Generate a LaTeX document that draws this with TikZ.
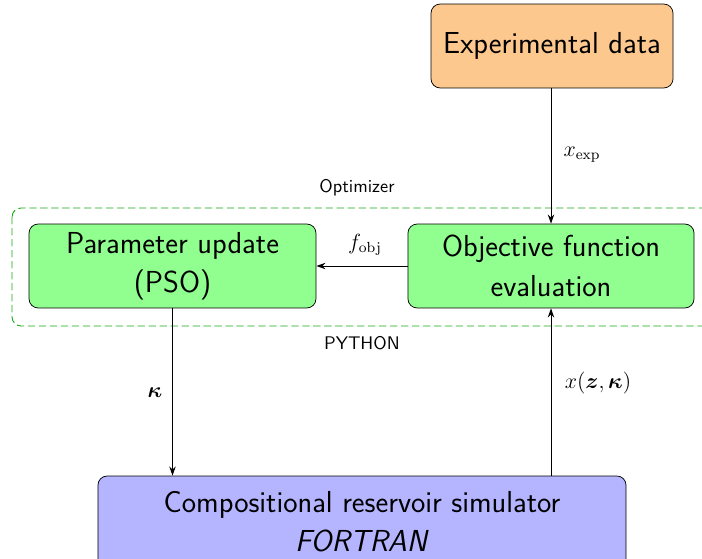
\documentclass[tikz,border=0pt]{standalone}
\usepackage{amsmath}
\usetikzlibrary{arrows.meta}
\definecolor{expfill}{RGB}{253,200,142}
\definecolor{pyfill}{RGB}{144,255,144}
\definecolor{simfill}{RGB}{180,180,255}
\definecolor{dashgreen}{RGB}{20,170,20}
\begin{document}
\begin{tikzpicture}[x=0.5467pt,y=-0.5467pt,
  box/.style={draw,rounded corners=5pt,align=center,font=\sffamily\fontsize{16.6}{21.5}\selectfont,inner sep=0pt,minimum height=45.9pt},
  conn/.style={-{Stealth[length=5pt,width=3.5pt]},line width=0.5pt},
  lbl/.style={font=\large}]
\useasboundingbox (0,0) rectangle (702,558);
\node[box,fill=expfill,minimum width=132.3pt] (exp) at (552,46) {Experimental data};
\node[box,fill=pyfill,minimum width=156.9pt] (param) at (172.5,266) {Parameter update\\(PSO)};
\node[box,fill=pyfill,minimum width=156.4pt] (obj) at (551,266) {Objective function\\evaluation};
\node[box,fill=simfill,minimum width=288.7pt,minimum height=50.3pt] (sim) at (362,522) {Compositional reservoir simulator\\\textit{FORTRAN}};
\draw[dashgreen,line width=0.5pt,dash pattern=on 4pt off 2pt,rounded corners=5pt] (12,208) rectangle (740,326);
\node[font=\sffamily] (opt) at (357,188) {Optimizer};
\node[font=\sffamily] (py) at (362,343) {PYTHON};
\draw[conn] (exp.south -| obj.north) -- (obj.north);
\node[lbl] (lexp) at (582,155) {$x_{\mathrm{exp}}$};
\draw[conn] (obj.west) -- (param.east);
\node[lbl] (lfobj) at (365,245) {$f_{\mathrm{obj}}$};
\draw[conn] (param.south) -- (param.south |- sim.north);
\node[lbl] (lkappa) at (155,393) {$\boldsymbol{\kappa}$};
\draw[conn] (sim.north -| obj.south) -- (obj.south);
\node[lbl] (lx) at (598,383) {$x(\boldsymbol{z},\boldsymbol{\kappa})$};
\end{tikzpicture}
\end{document}
